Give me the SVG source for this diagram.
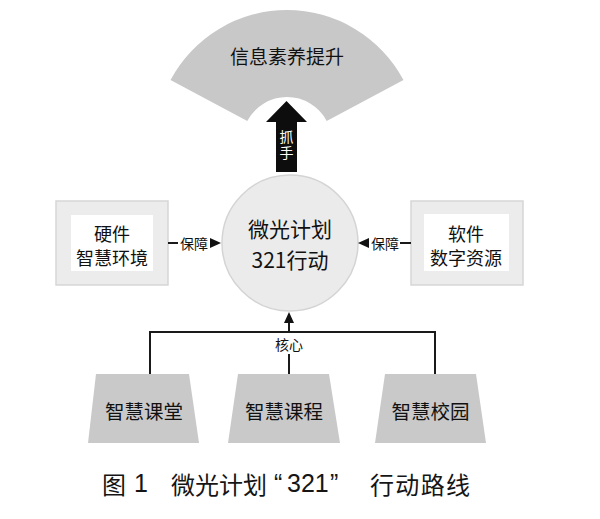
<svg xmlns="http://www.w3.org/2000/svg" width="600" height="519" viewBox="0 0 600 519">
<defs>
<style>
.t{font-family:"Noto Sans CJK SC","Liberation Sans",sans-serif;fill:#111;text-anchor:middle;dominant-baseline:central}
.lbl{font-size:14px}
.box{fill:#ececec;stroke:#d6d6d6;stroke-width:1.5}
.inner{fill:#fff}
.trap{fill:#c9c9c9}
.ln{stroke:#1a1a1a;stroke-width:2;fill:none}
.cap{font-family:"Noto Sans CJK SC","Liberation Sans",sans-serif;font-size:24px;fill:#151515;dominant-baseline:central}
.capn{font-family:"Liberation Sans","Noto Sans CJK SC",sans-serif;font-size:25px;fill:#151515;dominant-baseline:central}
</style>
</defs>
<rect width="600" height="519" fill="#fff"/>

<g id="fan">
<path d="M170.5 80 A132 132 0 0 1 403.5 80 L326.7 120.9 A45 45 0 0 0 247.3 120.9 Z" fill="#c8c8c8"/>
<text class="t" x="287" y="55" font-size="19">信息素养提升</text>
</g>

<g id="grip-arrow">
<polygon points="276,172 276,122 266,122 286.5,101 307,122 297,122 297,172" fill="#0d0d0d"/>
<text class="t" x="286.5" y="145.5" font-size="14" writing-mode="vertical-rl" letter-spacing="2" style="fill:#fff">抓手</text>
</g>

<g id="center">
<circle cx="290" cy="243" r="68" fill="#ebebeb" stroke="#d4d4d4" stroke-width="1.5"/>
<text class="t" x="290" y="228" font-size="21">微光计划</text>
<text class="t" x="290" y="259" font-size="21">321行动</text>
</g>

<g id="hardware">
<rect class="box" x="56" y="201" width="112" height="84"/>
<rect class="inner" x="71" y="215" width="82" height="56"/>
<text class="t" x="112" y="233" font-size="18">硬件</text>
<text class="t" x="112" y="257" font-size="18">智慧环境</text>
</g>

<g id="software">
<rect class="box" x="411" y="201" width="112" height="84"/>
<rect class="inner" x="424" y="214" width="85" height="57"/>
<text class="t" x="466" y="233" font-size="18">软件</text>
<text class="t" x="466" y="257" font-size="18">数字资源</text>
</g>

<g id="classroom">
<polygon class="trap" points="96,374 189,374 199,443 88,443"/>
<text class="t" x="144" y="410" font-size="19.5">智慧课堂</text>
</g>
<g id="course">
<polygon class="trap" points="238,374 329,374 340,443 228,443"/>
<text class="t" x="284" y="410" font-size="19.5">智慧课程</text>
</g>
<g id="campus">
<polygon class="trap" points="385,374 476,374 486,443 375,443"/>
<text class="t" x="430.5" y="410" font-size="19.5">智慧校园</text>
</g>

<g id="connectors">
<line class="ln" x1="168" y1="243" x2="178" y2="243" stroke-width="1.5"/>
<text class="t lbl" x="194" y="243">保障</text>
<path d="M210,238 L221,243 L210,248 Z" fill="#111"/>
<line class="ln" x1="400" y1="243" x2="411" y2="243" stroke-width="1.5"/>
<text class="t lbl" x="385" y="243">保障</text>
<path d="M369,238 L358,243 L369,248 Z" fill="#111"/>

<polyline class="ln" points="150,374 150,332 435,332 435,374"/>
<line class="ln" x1="289" y1="374" x2="289" y2="354"/>
<line class="ln" x1="289" y1="332" x2="289" y2="322"/>
<path d="M284,323 L289,312 L294,323 Z" fill="#111"/>
<rect x="274" y="335" width="30" height="18" fill="#fff"/>
<text class="t lbl" x="289" y="344">核心</text>
</g>

<g id="caption">
<text class="cap" x="102" y="483">图</text>
<text class="capn" x="134" y="483">1</text>
<text class="cap" x="171" y="483">微光计划</text>
<text class="capn" x="274" y="483">“</text>
<text class="capn" x="287" y="483">321</text>
<text class="capn" x="330" y="483">”</text>
<text class="cap" x="370" y="483" textLength="100" lengthAdjust="spacing">行动路线</text>
</g>
</svg>
